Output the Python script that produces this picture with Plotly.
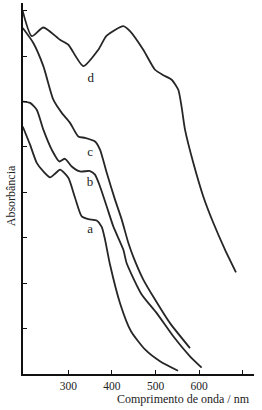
import plotly.graph_objects as go

# wavelength (nm) and absorbance (arbitrary units)
wl_a = [195.4, 212.2, 227.5, 242.7, 258, 269.5, 281, 300, 315.4, 330.7, 345.9, 365.1, 376.6, 384.2, 395.6, 418.6, 443.8, 475.9, 510.3, 551.6]
abs_a = [5.45, 5.05, 4.65, 4.46, 4.33, 4.41, 4.50, 4.32, 3.88, 3.47, 3.41, 3.38, 3.24, 2.96, 2.41, 1.56, 0.94, 0.54, 0.28, 0.07]

wl_b = [195.4, 212.2, 227.5, 242.7, 261.9, 279.4, 292.4, 307.8, 326.8, 349.8, 361.2, 372.7, 388.1, 403.2, 426.1, 433.9, 468.3, 502.8, 540.8, 579.1, 605.9]
abs_b = [6.00, 5.97, 5.82, 5.38, 4.94, 4.68, 4.74, 4.57, 4.46, 4.47, 4.39, 4.13, 3.69, 3.25, 2.74, 2.44, 1.75, 1.34, 0.83, 0.39, 0.14]

wl_c = [195.4, 219.7, 242.7, 265.6, 284.9, 303.9, 322.9, 338.3, 361.2, 372.7, 388.1, 407.1, 422.5, 437.6, 449.1, 472, 498.9, 533.3, 579.1]
abs_c = [7.62, 7.29, 6.78, 6.04, 5.75, 5.53, 5.23, 5.20, 5.12, 4.94, 4.43, 3.84, 3.40, 2.89, 2.58, 2.08, 1.64, 1.12, 0.57]

wl_d = [195.4, 216.1, 242.7, 281, 300, 334.4, 368.8, 388, 426.1, 441.5, 472, 498.9, 517.9, 537.2, 552.3, 560.1, 567.7, 586.7, 609.6, 632.6, 659.4, 684.6]
abs_d = [7.99, 7.44, 7.63, 7.36, 7.25, 6.78, 7.14, 7.45, 7.66, 7.55, 7.14, 6.70, 6.58, 6.48, 6.26, 5.87, 5.38, 4.65, 3.91, 3.33, 2.74, 2.24]

labels = ["a", "b", "c", "d"]
label_x = [349.8, 349.8, 349.8, 351.4]
label_y = [3.18, 4.21, 4.87, 6.50]

x_tickvals = [300, 400, 500, 600, 700]
x_ticktext = ["300", "400", "500", "600", ""]
y_tickvals = [1, 2, 3, 4, 5, 6, 7, 8]

FONT = "Liberation Serif, Times New Roman, serif"
LC = "#262626"

fig = go.Figure()
for wl, ab in [(wl_a, abs_a), (wl_b, abs_b), (wl_c, abs_c), (wl_d, abs_d)]:
    fig.add_trace(go.Scatter(x=wl, y=ab, mode="lines",
                             line=dict(color=LC, width=1.8, shape="spline", smoothing=0.6),
                             showlegend=False, hoverinfo="skip"))

fig.add_trace(go.Scatter(x=label_x, y=label_y, mode="text", text=labels,
                         textfont=dict(family=FONT, size=13, color="#222"),
                         showlegend=False, hoverinfo="skip"))

fig.update_layout(
    width=262, height=410,
    margin=dict(l=23, r=8, t=3, b=36),
    paper_bgcolor="white", plot_bgcolor="white",
    font=dict(family=FONT, size=12, color="#222"),
    xaxis=dict(range=[196, 726], showgrid=False, zeroline=False,
               showline=True, linecolor="#111", linewidth=2,
               ticks="inside", ticklen=4, tickwidth=1, tickcolor="#111",
               tickvals=x_tickvals, ticktext=x_ticktext,
               tickfont=dict(family=FONT, size=11.5, color="#222")),
    yaxis=dict(range=[0, 8.17], showgrid=False, zeroline=False,
               showline=True, linecolor="#111", linewidth=2,
               ticks="inside", ticklen=4, tickwidth=1, tickcolor="#111",
               tickvals=y_tickvals, showticklabels=False),
    annotations=[
        dict(text="Absorbância", x=0, xref="paper", y=0.479, yref="paper",
             xanchor="center", yanchor="middle", xshift=-12, textangle=-90,
             showarrow=False, font=dict(family=FONT, size=12, color="#222")),
        dict(text="Comprimento de onda / nm", x=0.991, xref="paper", y=0, yref="paper",
             xanchor="right", yanchor="middle", yshift=-25,
             showarrow=False, font=dict(family=FONT, size=12, color="#222")),
    ],
)

fig.write_html("out.html", config={"displayModeBar": False},
               post_script="document.body.style.margin='0';document.body.style.padding='0';")
